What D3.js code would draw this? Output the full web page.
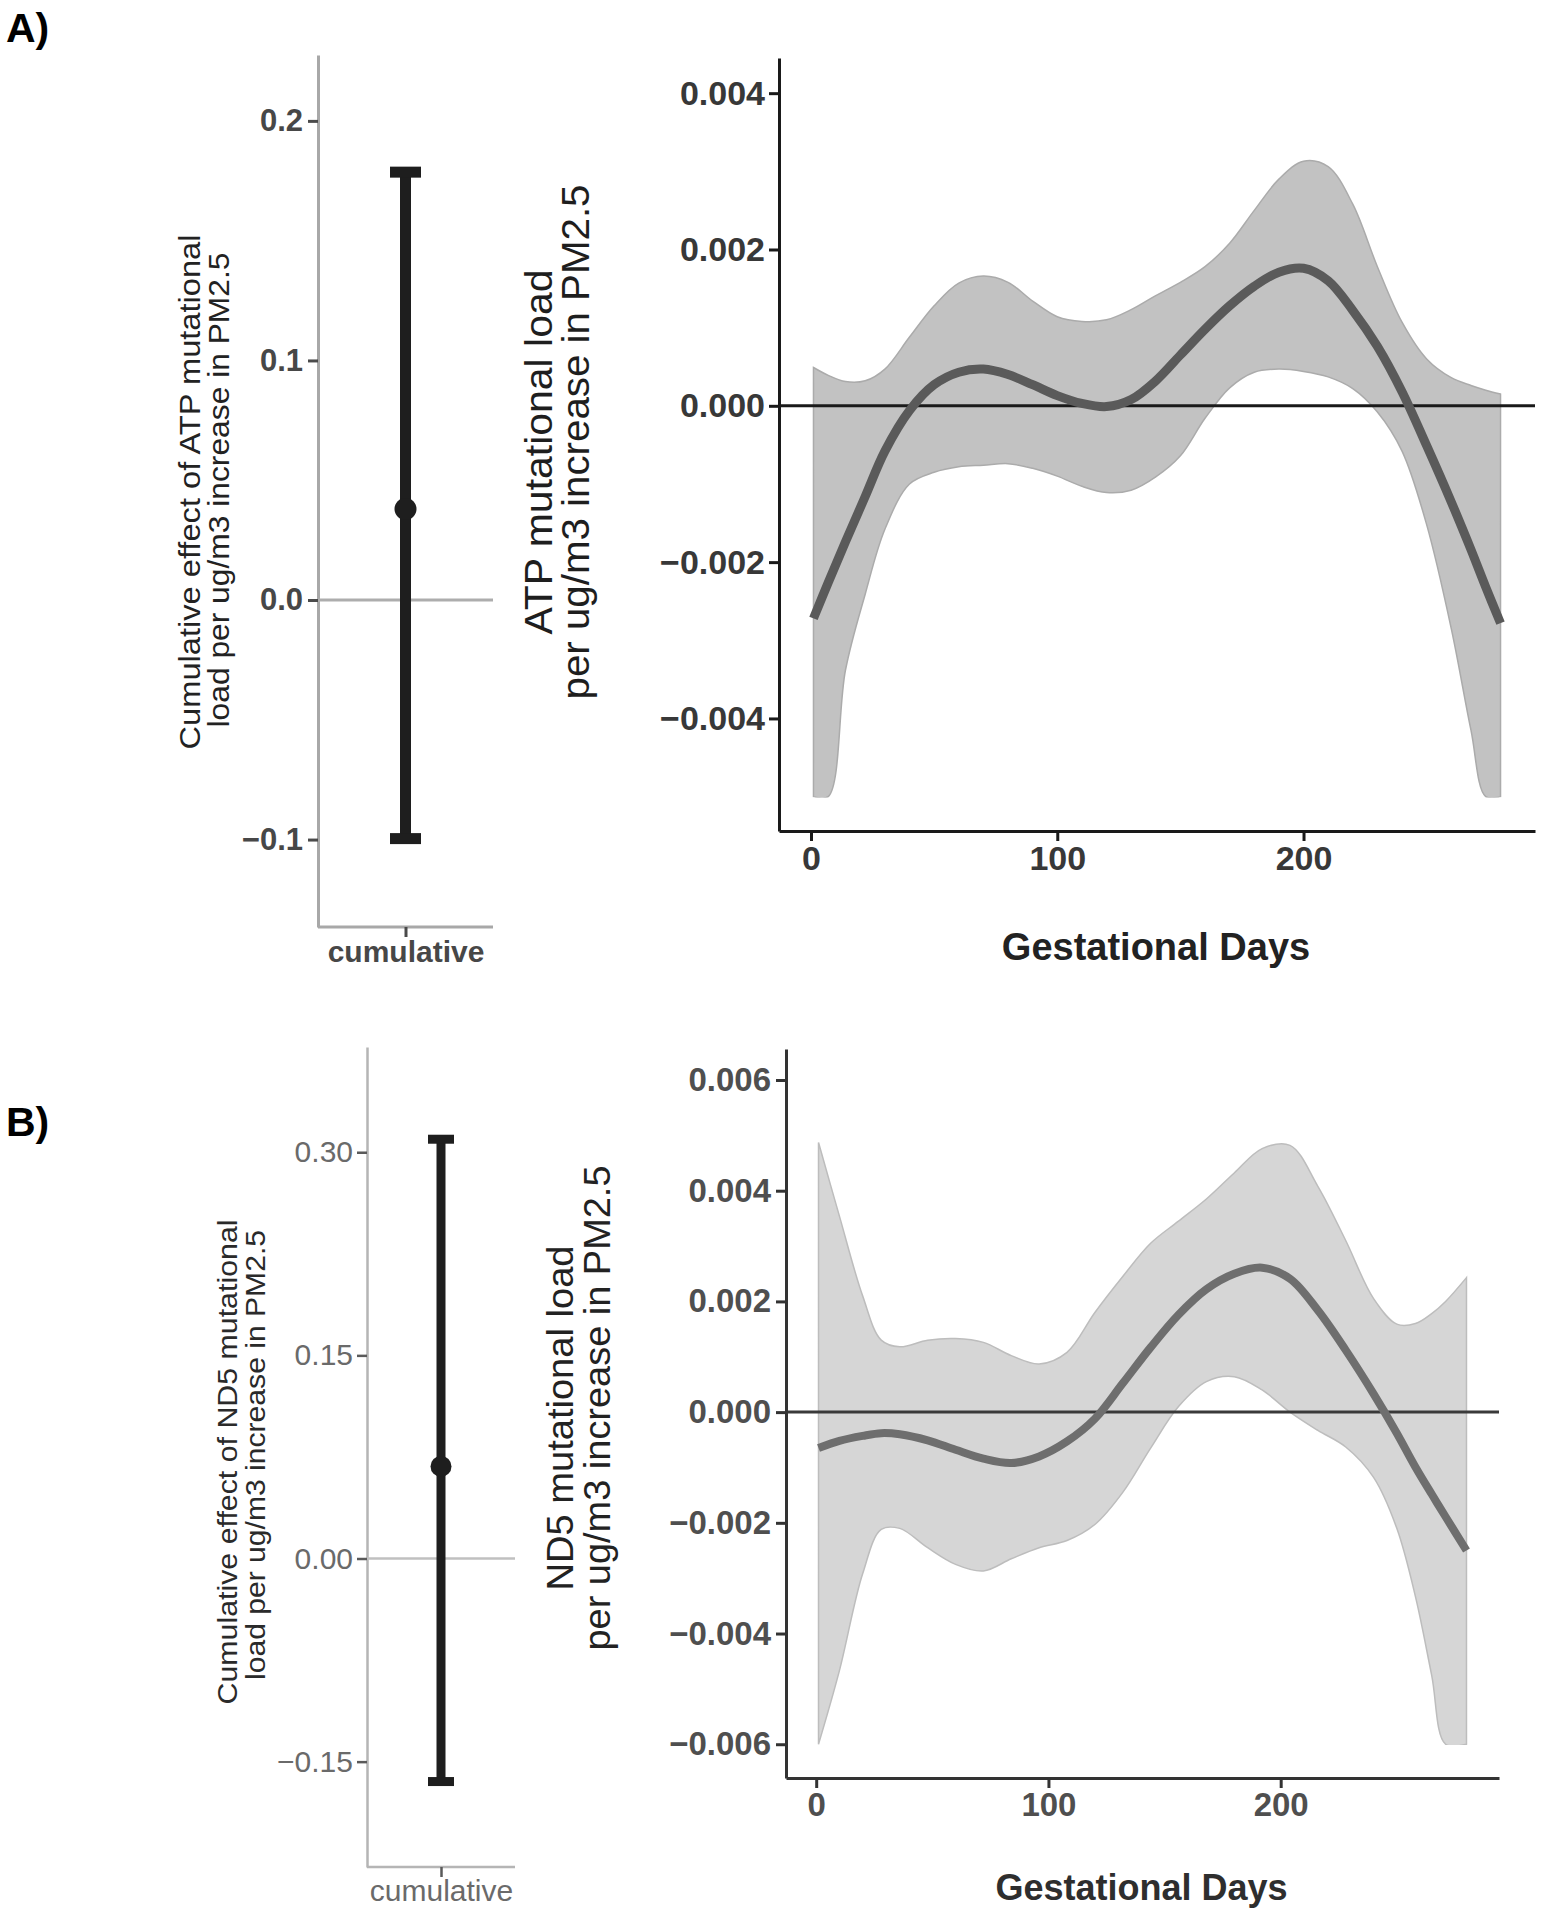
<!DOCTYPE html>
<html>
<head>
<meta charset="utf-8">
<script src="https://cdn.jsdelivr.net/npm/d3@7"></script>
<style>
  body { margin: 0; background: #fff; }
  svg { display: block; font-family: "Liberation Sans", Arial, sans-serif; }
</style>
</head>
<body>
<svg id="fig" width="1546" height="1920"></svg>
<script>
// ---- data ----
const cumCategory = ['cumulative'];

// cumulative effect (point estimate, lower, upper) for ATP and ND5
const atpCumEstimate = [0.038];
const atpCumLower = [-0.0996];
const atpCumUpper = [0.1786];
const nd5CumEstimate = [0.068];
const nd5CumLower = [-0.1647];
const nd5CumUpper = [0.3096];

// ATP distributed lag curve
const atpDays = [1, 7, 14, 22, 30, 40, 50, 60, 70, 80, 90, 100, 110, 120, 130, 140, 150, 160, 170, 180, 190, 200, 210, 220, 230, 240, 250, 260, 268, 274, 280];
const atpFit = [-0.00272, -0.00226, -0.00174, -0.00116, -0.00058, -0.00006, 0.00027, 0.00043, 0.00047, 0.00040, 0.00027, 0.00013, 0.00003, -0.00001, 0.00008, 0.00032, 0.00065, 0.00098, 0.00128, 0.00153, 0.00171, 0.00176, 0.00160, 0.00122, 0.00076, 0.00018, -0.00051, -0.00123, -0.00184, -0.00232, -0.00278];
const atpLower = [-0.005, -0.005, -0.00338, -0.00241, -0.00158, -0.00100, -0.00085, -0.00078, -0.00076, -0.00074, -0.00080, -0.00090, -0.00103, -0.00111, -0.00108, -0.00091, -0.00064, -0.00016, 0.00023, 0.00043, 0.00047, 0.00044, 0.00037, 0.00022, -0.00008, -0.00058, -0.00152, -0.00285, -0.00415, -0.005, -0.005];
const atpUpper = [0.00049, 0.00039, 0.00031, 0.00032, 0.00047, 0.00088, 0.00128, 0.00157, 0.00166, 0.00158, 0.00134, 0.00114, 0.00108, 0.00110, 0.00123, 0.00141, 0.00158, 0.00178, 0.00208, 0.00250, 0.00290, 0.00313, 0.00306, 0.00258, 0.00178, 0.00107, 0.00060, 0.00036, 0.00026, 0.00020, 0.00015];
const atpBandFloor = -0.005; // lower band is cut off here in the figure

// ND5 distributed lag curve
const nd5Days = [1, 10, 20, 28, 36, 48, 60, 72, 84, 96, 108, 120, 132, 144, 156, 168, 180, 192, 204, 216, 228, 240, 250, 258, 265, 271, 280];
const nd5Fit = [-0.00065, -0.00052, -0.00043, -0.00038, -0.00040, -0.00051, -0.00068, -0.00084, -0.00092, -0.00080, -0.00053, -0.00012, 0.00052, 0.00117, 0.00176, 0.00222, 0.00250, 0.00261, 0.00241, 0.00184, 0.00112, 0.00033, -0.00038, -0.00099, -0.00148, -0.00189, -0.00250];
const nd5Lower = [-0.006, -0.00467, -0.00292, -0.00212, -0.00210, -0.00245, -0.00275, -0.00287, -0.00265, -0.00245, -0.00232, -0.00203, -0.00145, -0.00065, 0.00010, 0.00055, 0.00064, 0.00040, 0.0, -0.00033, -0.00063, -0.00118, -0.00210, -0.00333, -0.00475, -0.006, -0.006];
const nd5Upper = [0.00487, 0.00354, 0.00210, 0.00130, 0.00118, 0.00130, 0.00133, 0.00126, 0.00102, 0.00087, 0.00108, 0.00180, 0.00245, 0.00305, 0.00345, 0.00385, 0.00432, 0.00476, 0.00482, 0.00408, 0.00310, 0.00205, 0.00159, 0.00160, 0.00178, 0.00200, 0.00243];
const nd5BandFloor = -0.006;

// tick labels
const atpCumTicks = [-0.1, 0.0, 0.1, 0.2];
const nd5CumTicks = [-0.15, 0.00, 0.15, 0.30];
const atpLagTicks = [-0.004, -0.002, 0.000, 0.002, 0.004];
const nd5LagTicks = [-0.006, -0.004, -0.002, 0.000, 0.002, 0.004, 0.006];
const dayTicks = [0, 100, 200];

const svg = d3.select('#fig');
const defs = svg.append('defs');

function styleText(sel, size, weight, color) {
  sel.style('font-family', '"Liberation Sans", Arial, sans-serif')
    .style('font-size', size + 'px')
    .style('font-weight', weight)
    .style('fill', color);
}

function vTitle(lines) {
  lines.forEach(l => {
    const t = svg.append('text')
      .attr('transform', `translate(${l.x},${l.y}) rotate(-90)`)
      .attr('text-anchor', 'middle')
      .attr('textLength', l.len)
      .attr('lengthAdjust', 'spacingAndGlyphs')
      .text(l.text);
    styleText(t, l.size, 'normal', l.color);
  });
}

// cumulative effect panel
function drawCumulative(o) {
  const x = d3.scalePoint().domain(cumCategory).range([o.left, o.right]).padding(0.5);
  const y = d3.scaleLinear().domain(o.yDomain).range([o.bottom, o.top]);
  const g = svg.append('g');

  const yAxis = g.append('g')
    .attr('transform', `translate(${o.left},0)`)
    .call(d3.axisLeft(y).tickValues(o.ticks).tickFormat(d3.format(o.fmt))
      .tickSize(10).tickSizeOuter(0).tickPadding(o.pad));
  yAxis.select('.domain').attr('stroke', o.axisColor).attr('stroke-width', o.axisWidth);
  yAxis.selectAll('.tick line').attr('stroke', o.tickColor).attr('stroke-width', o.axisWidth);
  styleText(yAxis.selectAll('text'), o.labelSize, o.labelWeight, o.labelColor);

  const xAxis = g.append('g')
    .attr('transform', `translate(0,${o.bottom})`)
    .call(d3.axisBottom(x).tickSize(10).tickSizeOuter(0).tickPadding(o.xpad));
  xAxis.select('.domain').attr('d', `M${o.left},0H${o.axisRight}`)
    .attr('stroke', o.axisColor).attr('stroke-width', o.axisWidth);
  xAxis.selectAll('.tick line').attr('stroke', o.tickColor).attr('stroke-width', o.axisWidth);
  styleText(xAxis.selectAll('text'), o.catSize, o.labelWeight, o.labelColor);

  // zero reference
  g.append('line')
    .attr('x1', o.left).attr('x2', o.axisRight)
    .attr('y1', y(0)).attr('y2', y(0))
    .attr('stroke', o.zeroColor).attr('stroke-width', o.axisWidth);

  const rows = cumCategory.map((c, i) => ({ c, est: o.est[i], lo: o.lo[i], hi: o.hi[i] }));
  const bars = g.selectAll('.eb').data(rows).join('g').attr('class', 'eb');
  bars.append('line')
    .attr('x1', d => x(d.c)).attr('x2', d => x(d.c))
    .attr('y1', d => y(d.lo)).attr('y2', d => y(d.hi))
    .attr('stroke', '#1e1e1e').attr('stroke-width', o.barWidth);
  ['lo', 'hi'].forEach(k => {
    bars.append('line')
      .attr('x1', d => x(d.c) - o.capHalf).attr('x2', d => x(d.c) + o.capHalf)
      .attr('y1', d => y(d[k])).attr('y2', d => y(d[k]))
      .attr('stroke', '#1e1e1e').attr('stroke-width', o.barWidth);
  });
  bars.append('circle')
    .attr('cx', d => x(d.c)).attr('cy', d => y(d.est))
    .attr('r', o.r).attr('fill', '#1e1e1e');
}

// distributed lag panel
function drawLag(o) {
  const x = d3.scaleLinear().domain([-13, 294]).range([o.left, o.right]);
  const y = d3.scaleLinear().domain(o.yDomain).range([o.bottom, o.top]);
  const g = svg.append('g');
  const rows = o.days.map((d, i) => ({ d, fit: o.fit[i], lo: o.lo[i], hi: o.hi[i] }));

  // the band is cut at its floor value, as in the figure
  defs.append('clipPath').attr('id', o.id + '-clip')
    .append('rect')
    .attr('x', o.left).attr('y', o.top)
    .attr('width', o.right - o.left).attr('height', y(o.floor) - o.top + 0.8);

  g.append('path')
    .datum(rows)
    .attr('clip-path', `url(#${o.id}-clip)`)
    .attr('fill', o.bandFill)
    .attr('stroke', o.bandStroke)
    .attr('stroke-width', 1.5)
    .attr('d', d3.area().x(d => x(d.d)).y0(d => y(d.lo)).y1(d => y(d.hi))
      .curve(d3.curveCatmullRom.alpha(0.5)));

  g.append('line')
    .attr('x1', o.left).attr('x2', o.right)
    .attr('y1', y(0)).attr('y2', y(0))
    .attr('stroke', o.zeroColor).attr('stroke-width', 3);

  g.append('path')
    .datum(rows)
    .attr('fill', 'none')
    .attr('stroke', o.lineColor)
    .attr('stroke-width', o.lineWidth)
    .attr('d', d3.line().x(d => x(d.d)).y(d => y(d.fit)).curve(d3.curveCatmullRom.alpha(0.5)));

  const yAxis = g.append('g')
    .attr('transform', `translate(${o.left},0)`)
    .call(d3.axisLeft(y).tickValues(o.ticks).tickFormat(d3.format('.3f'))
      .tickSize(10).tickSizeOuter(0).tickPadding(o.pad));
  const xAxis = g.append('g')
    .attr('transform', `translate(0,${o.bottom})`)
    .call(d3.axisBottom(x).tickValues(dayTicks).tickFormat(d3.format('d'))
      .tickSize(10).tickSizeOuter(0).tickPadding(5));
  [yAxis, xAxis].forEach(a => {
    a.select('.domain').attr('stroke', o.axisColor).attr('stroke-width', 3);
    a.selectAll('.tick line').attr('stroke', o.axisColor).attr('stroke-width', 3);
    styleText(a.selectAll('text'), o.labelSize, 'bold', o.labelColor);
  });

  const xt = g.append('text')
    .attr('x', (o.left + o.right) / 2 - 1)
    .attr('y', o.xTitleY)
    .attr('text-anchor', 'middle')
    .text('Gestational Days');
  styleText(xt, o.xTitleSize, 'bold', o.titleColor);
}

// ---- panel A ----
drawCumulative({
  left: 318, right: 493, axisRight: 493, top: 55, bottom: 927,
  yDomain: [-0.1365, 0.2275], ticks: atpCumTicks, fmt: '.1f',
  est: atpCumEstimate, lo: atpCumLower, hi: atpCumUpper,
  pad: 5, xpad: 4, axisColor: '#a8a8a8', tickColor: '#4a4a4a', zeroColor: '#adadad', axisWidth: 3,
  labelSize: 31, catSize: 30, labelWeight: 'bold', labelColor: '#474747',
  barWidth: 11, capHalf: 15.5, r: 11
});
drawLag({
  id: 'atp', left: 779, right: 1535, top: 58, bottom: 831,
  yDomain: [-0.00544, 0.00445], ticks: atpLagTicks,
  days: atpDays, fit: atpFit, lo: atpLower, hi: atpUpper, floor: atpBandFloor,
  bandFill: '#c2c2c2', bandStroke: '#ababab', lineColor: '#5a5a5a', lineWidth: 9,
  zeroColor: '#1a1a1a', axisColor: '#1a1a1a', pad: 4,
  labelSize: 34, labelColor: '#383838', titleColor: '#222',
  xTitleY: 960, xTitleSize: 38
});
vTitle([
  { text: 'Cumulative effect of ATP mutational', x: 200, y: 492, len: 515, size: 29, color: '#222' },
  { text: 'load per ug/m3 increase in PM2.5', x: 229, y: 490, len: 475, size: 29, color: '#222' },
  { text: 'ATP mutational load', x: 552, y: 452, len: 365, size: 38, color: '#1e1e1e' },
  { text: 'per ug/m3 increase in PM2.5', x: 589, y: 442, len: 515, size: 38, color: '#1e1e1e' }
]);

// ---- panel B ----
drawCumulative({
  left: 367, right: 515, axisRight: 515, top: 1047, bottom: 1867,
  yDomain: [-0.2278, 0.3777], ticks: nd5CumTicks, fmt: '.2f',
  est: nd5CumEstimate, lo: nd5CumLower, hi: nd5CumUpper,
  pad: 4, xpad: 3, axisColor: '#b5b5b5', tickColor: '#5a5a5a', zeroColor: '#c0c0c0', axisWidth: 2.5,
  labelSize: 30, catSize: 30, labelWeight: 'normal', labelColor: '#6a6a6a',
  barWidth: 9, capHalf: 13, r: 10.5
});
drawLag({
  id: 'nd5', left: 786, right: 1499, top: 1049, bottom: 1778,
  yDomain: [-0.00661, 0.00656], ticks: nd5LagTicks,
  days: nd5Days, fit: nd5Fit, lo: nd5Lower, hi: nd5Upper, floor: nd5BandFloor,
  bandFill: '#d6d6d6', bandStroke: '#bdbdbd', lineColor: '#6e6e6e', lineWidth: 8,
  zeroColor: '#3a3a3a', axisColor: '#333', pad: 5,
  labelSize: 33, labelColor: '#4f4f4f', titleColor: '#2e2e2e',
  xTitleY: 1900, xTitleSize: 36
});
vTitle([
  { text: 'Cumulative effect of ND5 mutational', x: 237, y: 1462, len: 485, size: 27, color: '#2a2a2a' },
  { text: 'load per ug/m3 increase in PM2.5', x: 265, y: 1455, len: 450, size: 27, color: '#2a2a2a' },
  { text: 'ND5 mutational load', x: 573, y: 1418, len: 345, size: 36, color: '#222' },
  { text: 'per ug/m3 increase in PM2.5', x: 610, y: 1408, len: 485, size: 36, color: '#222' }
]);

// panel letters
['A)', 'B)'].forEach((s, i) => {
  const t = svg.append('text').attr('x', 6).attr('y', i === 0 ? 42 : 1136).text(s);
  styleText(t, 41, 'bold', '#000');
});
</script>
</body>
</html>
